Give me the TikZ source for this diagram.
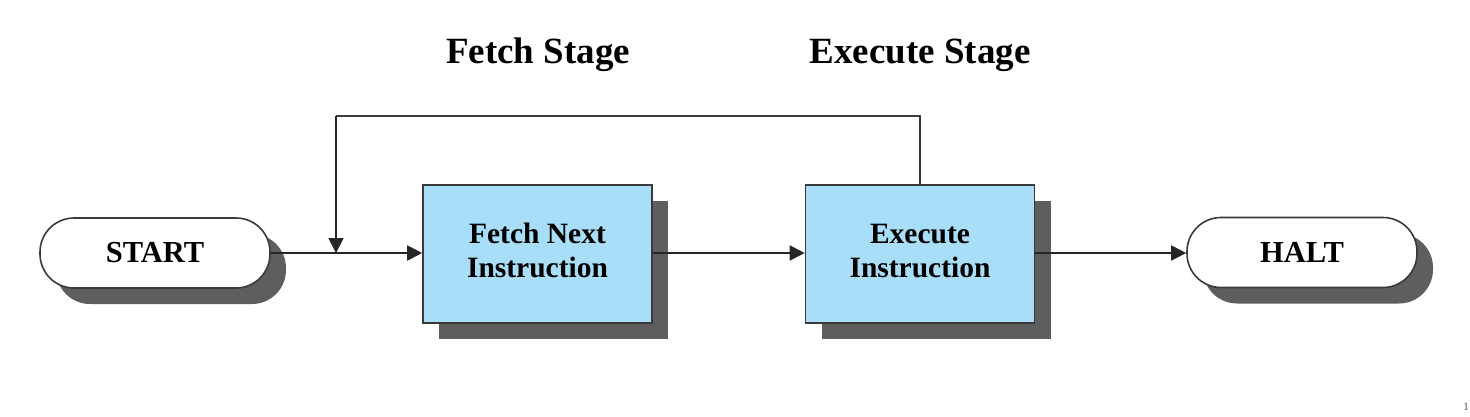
\documentclass[tikz,border=0pt]{standalone}
\usepackage{fontspec}
\setmainfont{Liberation Serif}
\usetikzlibrary{arrows.meta,shadows}
\definecolor{boxblue}{HTML}{A8DEF8}
\definecolor{shadowgray}{HTML}{5E5E5E}
\definecolor{linegray}{HTML}{3A3A3A}
\newcommand{\twolines}[2]{\raisebox{5pt}{\begin{tabular}{@{}c@{}}#1\\#2\end{tabular}}}
\tikzset{
  shadowed/.style={general shadow={fill=shadowgray, shadow xshift=16pt, shadow yshift=-16pt}},
  terminal/.style={draw=linegray, line width=1.6pt, fill=white, rounded corners=34pt,
    minimum width=230pt, minimum height=70pt, inner sep=0pt, shadowed,
    font=\fontsize{30.5}{34}\selectfont\bfseries},
  stagebox/.style={draw=linegray, line width=1.6pt, fill=boxblue,
    minimum width=229pt, minimum height=138pt, inner sep=0pt, shadowed,
    font=\fontsize{29.5}{34}\selectfont\bfseries},
  title/.style={font=\fontsize{37}{40}\selectfont\bfseries, inner sep=0pt},
  conn/.style={draw=black!85, line width=1.8pt, -{Triangle[length=15pt,width=15pt]}},
  plain/.style={draw=linegray, line width=1.8pt}
}
\begin{document}
\begin{tikzpicture}[x=1pt,y=-1pt]
\useasboundingbox (0,0) rectangle (1470,416);
\node[terminal] (start) at (155,253) {START};
\node[stagebox] (fetch) at (537.5,254) {\twolines{Fetch Next}{Instruction}};
\node[stagebox] (exec) at (920,254) {\twolines{Execute}{Instruction}};
\node[terminal] (halt) at (1302,252.5) {HALT};
\node[title] (ft) at (538,55) {Fetch Stage};
\node[title] (et) at (920,55) {Execute Stage};
\coordinate (junc) at (336,253);
\coordinate (topl) at (336,116);
\coordinate (topr) at (920,116);
\draw[conn] (start.east |- 0,253) -- (fetch.west |- 0,253);
\draw[conn] (fetch.east |- 0,253) -- (exec.west |- 0,253);
\draw[conn] (exec.east |- 0,253) -- (halt.west |- 0,253);
\draw[plain] (exec.north) -- (topr) -- (topl);
\draw[conn] (topl) -- (junc);
\node[font=\fontsize{11}{12}\selectfont, inner sep=0pt, text=black!70] (pg) at (1466,407) {1};
\end{tikzpicture}
\end{document}
